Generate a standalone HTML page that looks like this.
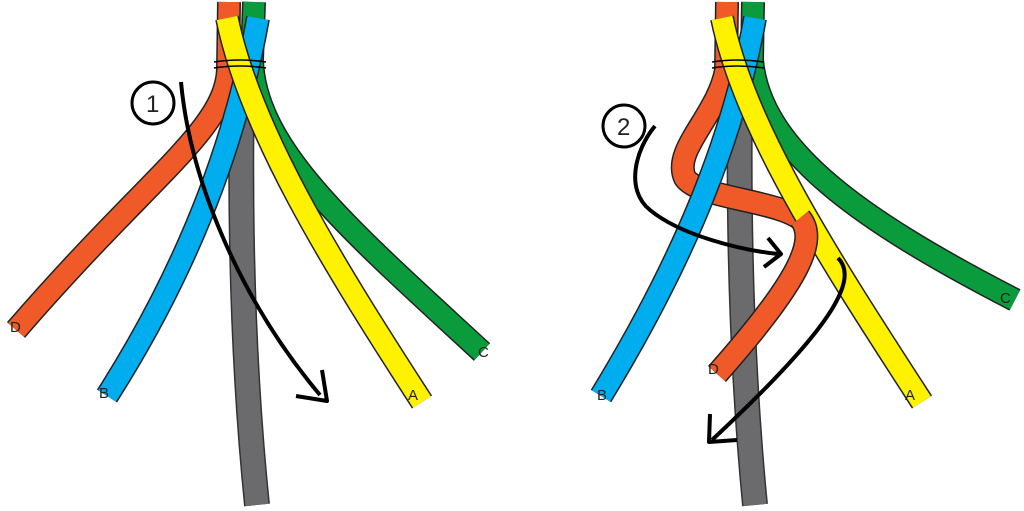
<!DOCTYPE html>
<html><head><style>html,body{margin:0;padding:0;background:#fff;}svg{display:block}</style></head>
<body>
<svg width="1024" height="511" viewBox="0 0 1024 511" xmlns="http://www.w3.org/2000/svg" font-family="Liberation Sans, sans-serif">
<defs>
<marker id="ah" markerWidth="10" markerHeight="10" refX="5" refY="5" orient="auto" markerUnits="userSpaceOnUse" viewBox="0 0 10 10"><path d="M0,0 L5,5 L0,10" fill="none" stroke="#000" stroke-width="2.2"/></marker>
</defs>
<g fill="none" stroke-linecap="butt" stroke-linejoin="round">
<!-- LEFT -->
<path d="M254,2 L252,60 C255,150 350,230 482,352" stroke="#222" stroke-width="24"/>
<path d="M254,2 L252,60 C255,150 350,230 482,352" stroke="#0a9c3c" stroke-width="21"/>
<path d="M243,40 Q236,300 257,505" stroke="#333" stroke-width="26"/>
<path d="M243,40 Q236,300 257,505" stroke="#6b6b6e" stroke-width="23"/>
<path d="M229,2 L228,70 C225,130 150,175 16,330" stroke="#222" stroke-width="24"/>
<path d="M229,2 L228,70 C225,130 150,175 16,330" stroke="#f05a28" stroke-width="21"/>
<path d="M258,18 C240,120 200,250 107,396" stroke="#222" stroke-width="24"/>
<path d="M258,18 C240,120 200,250 107,396" stroke="#00aeef" stroke-width="21"/>
<path d="M227,18 C250,130 330,260 422,402" stroke="#222" stroke-width="24"/>
<path d="M227,18 C250,130 330,260 422,402" stroke="#fff200" stroke-width="21"/>
<path d="M214,62 Q240,58 266,62 M214,68 Q240,64 266,68" stroke="#000" stroke-width="1.6"/>
<path d="M181,82 C190,180 240,300 320,395" stroke="#000" stroke-width="4"/>
<path d="M296,396 L327,401 L322,370" stroke="#000" stroke-width="4"/>
<circle cx="153" cy="103" r="21" stroke="#000" stroke-width="3" fill="#fff"/>
<!-- RIGHT -->
<path d="M753,2 L752,60 C760,150 860,220 1015,300" stroke="#222" stroke-width="24"/>
<path d="M753,2 L752,60 C760,150 860,220 1015,300" stroke="#0a9c3c" stroke-width="21"/>
<path d="M741,40 Q735,300 755,505" stroke="#333" stroke-width="26"/>
<path d="M741,40 Q735,300 755,505" stroke="#6b6b6e" stroke-width="23"/>
<path d="M727,2 L726,70 C718,115 672,150 685,178 C700,200 790,200 806,225" stroke="#222" stroke-width="24"/>
<path d="M727,2 L726,70 C718,115 672,150 685,178 C700,200 790,200 806,225" stroke="#f05a28" stroke-width="21"/>
<path d="M755,18 C735,130 690,250 601,396" stroke="#222" stroke-width="24"/>
<path d="M755,18 C735,130 690,250 601,396" stroke="#00aeef" stroke-width="21"/>
<path d="M722,18 C745,130 830,260 922,402" stroke="#222" stroke-width="24"/>
<path d="M722,18 C745,130 830,260 922,402" stroke="#fff200" stroke-width="21"/>
<path d="M800,218 C818,240 800,280 717,374" stroke="#222" stroke-width="24"/>
<path d="M800,218 C818,240 800,280 717,374" stroke="#f05a28" stroke-width="21"/>
<path d="M712,62 Q738,58 764,62 M712,68 Q738,64 764,68" stroke="#000" stroke-width="1.6"/>
<path d="M655,126 C635,150 625,190 650,210 C680,235 740,250 778,254" stroke="#000" stroke-width="4"/>
<path d="M768,238 L781,254 L764,267" stroke="#000" stroke-width="4"/>
<path d="M838,258 C860,280 830,330 712,440" stroke="#000" stroke-width="4"/>
<path d="M710,414 L709,442 L737,440" stroke="#000" stroke-width="4"/>
<circle cx="624" cy="126" r="21" stroke="#000" stroke-width="3" fill="#fff"/>
</g>
<g font-size="15" fill="#222">
<text x="146" y="112" font-size="24">1</text>
<text x="617" y="135" font-size="24">2</text>
<text x="10" y="332">D</text>
<text x="99" y="398">B</text>
<text x="408" y="400">A</text>
<text x="478" y="357">C</text>
<text x="597" y="400">B</text>
<text x="708" y="374">D</text>
<text x="905" y="400">A</text>
<text x="1000" y="303">C</text>
</g>
</svg>
</body></html>
